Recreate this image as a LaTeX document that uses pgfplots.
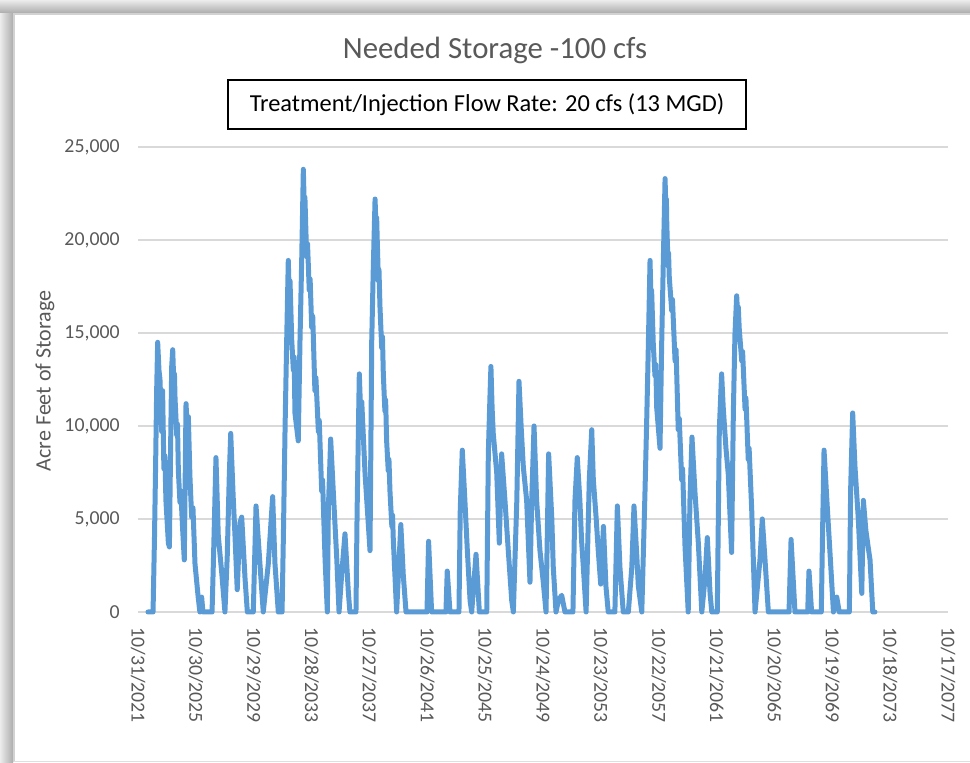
\documentclass[border=0pt]{standalone}
\usepackage{pgfplots}
\pgfplotsset{compat=1.18}
\usepackage{fontspec}
\setmainfont{Carlito}
\definecolor{serblue}{HTML}{5B9BD5}
\definecolor{txtgray}{HTML}{595959}
\definecolor{gridgray}{HTML}{D9D9D9}
\begin{document}
\begin{tikzpicture}
% background and shadow frame (1px = 0.5pt)
\useasboundingbox (0,0) rectangle (485pt,381.5pt);
\fill[white] (0,0) rectangle (485pt,381.5pt);
\shade[left color=gray!15, right color=gray!65] (0,0) rectangle (6.5pt,381.5pt);
\shade[top color=gray!15, bottom color=gray!65] (0,375pt) rectangle (485pt,381.5pt);
\fill[white] (7pt,0) rectangle (485pt,374.5pt);
\draw[gray!35, line width=0.6pt] (7pt,0.6pt) -- (7pt,374.5pt) -- (485pt,374.5pt);
\draw[gray!25, line width=0.6pt] (7pt,0.6pt) -- (485pt,0.6pt);
% title and annotation
\node[text=txtgray, font=\fontsize{15.4}{18}\selectfont] at (247.5pt,356.5pt) {Needed Storage -100 cfs};
\node[draw=black, line width=1pt, minimum width=259pt, minimum height=24.5pt, inner sep=0pt,
      font=\fontsize{12.2}{14}\selectfont] at (243.5pt,329.25pt) {Treatment/Injection Flow Rate: 20 cfs (13 MGD)};
\node[text=txtgray, rotate=90, font=\fontsize{11}{13}\selectfont] at (22.5pt,191pt) {Acre Feet of Storage};
\begin{axis}[
  at={(69pt,75.5pt)}, anchor=south west,
  scale only axis, width=405pt, height=232.5pt,
  xmin=0, xmax=56, ymin=0, ymax=25000,
  clip=false,
  axis line style={draw=none},
  major tick length=0pt,
  ymajorgrids, grid style={color=gridgray, line width=0.9pt},
  ytick={0,5000,10000,15000,20000,25000},
  scaled y ticks=false,
  /pgf/number format/assume math mode=true,
  /pgf/number format/1000 sep={,},
  yticklabel style={text=txtgray, font=\fontsize{9.9}{12}\selectfont, inner sep=0pt, anchor=east},
  yticklabel shift=9pt,
  xtick={0,4,...,56},
  xticklabels={10/31/2021,10/30/2025,10/29/2029,10/28/2033,10/27/2037,10/26/2041,10/25/2045,10/24/2049,10/23/2053,10/22/2057,10/21/2061,10/20/2065,10/19/2069,10/18/2073,10/17/2077},
  xticklabel style={text=txtgray, font=\fontsize{9.9}{12}\selectfont, inner sep=0pt, rotate=-90, anchor=west},
  xticklabel shift=7.5pt,
]
\addplot[serblue, line width=2.5pt, line join=round, line cap=round] table {
x y
0.69 0
1.04 0
1.14 4000
1.22 8000
1.29 11900
1.36 14500
1.45 13000
1.52 12500
1.64 9700
1.70 11900
1.79 7700
1.86 8400
1.93 6000
2.10 3700
2.17 3500
2.27 9800
2.33 13200
2.40 14100
2.48 12200
2.52 12800
2.56 11500
2.68 9500
2.73 10100
2.79 7600
2.90 5900
2.96 6500
3.09 4400
3.20 2800
3.32 11200
3.40 10000
3.48 10500
3.59 7300
3.71 5100
3.80 5600
3.94 2600
4.16 800
4.28 0
4.40 800
4.49 0
5.12 0
5.21 2600
5.39 8300
5.47 6200
5.55 4100
5.79 2100
6.01 0
6.17 3000
6.31 7300
6.41 9600
6.50 7800
6.58 6200
6.70 4200
6.86 1200
7.05 4800
7.17 5100
7.40 1800
7.56 0
7.97 0
8.16 5700
8.43 2600
8.66 0
9.01 2600
9.31 6200
9.47 2600
9.70 0
9.96 0
10.05 4000
10.17 10000
10.28 14600
10.39 18900
10.45 17200
10.51 17800
10.63 14600
10.74 13000
10.80 13700
10.85 10700
11.08 9200
11.20 14600
11.32 19000
11.43 23800
11.50 21600
11.54 22300
11.66 19100
11.72 19800
11.84 17300
11.90 17900
12.01 15300
12.08 15900
12.23 11900
12.30 12600
12.47 9700
12.53 10300
12.70 6500
12.76 7100
12.93 2900
13.09 0
13.16 5500
13.32 9300
13.50 6500
13.74 2900
13.90 0
14.08 2000
14.31 4200
14.54 1100
14.65 0
15.07 0
15.15 5500
15.30 12800
15.40 10600
15.47 11300
15.70 7400
15.85 5600
16.04 3300
16.16 14600
16.27 18600
16.39 22200
16.46 20500
16.50 21200
16.54 20000
16.62 17800
16.66 18400
16.73 16400
16.85 14200
16.90 14800
16.96 12800
17.07 10800
17.12 11400
17.19 9200
17.30 7600
17.35 8200
17.42 6500
17.55 4600
17.60 5200
17.65 3900
17.88 0
18.17 4700
18.34 2000
18.53 0
19.98 0
20.09 3800
20.30 0
21.29 0
21.38 2200
21.57 0
22.19 0
22.28 5500
22.42 8700
22.60 6000
22.77 3300
22.96 600
23.07 0
23.37 3100
23.60 0
24.11 0
24.22 8500
24.33 11500
24.40 13200
24.48 11000
24.56 9600
24.80 7500
24.98 3700
25.14 8500
25.37 6000
25.60 3300
25.84 600
25.95 0
26.19 6000
26.34 12400
26.50 9800
26.64 7800
26.87 6000
27.10 1600
27.22 6000
27.38 10000
27.56 6000
27.79 3300
28.02 1600
28.21 0
28.39 8500
28.61 5000
28.71 2400
28.90 0
29.06 600
29.29 900
29.52 0
30.07 0
30.21 6000
30.37 8300
30.55 6000
30.67 3800
30.79 2400
30.98 0
31.20 7100
31.37 9800
31.48 7100
31.67 5100
31.82 3300
31.99 1500
32.18 4600
32.35 1400
32.51 0
32.97 0
33.14 5700
33.32 2400
33.55 0
33.90 0
34.14 2400
34.29 5700
34.48 3100
34.59 1400
34.83 0
35.05 6400
35.17 10300
35.28 14200
35.40 18900
35.46 17000
35.51 17300
35.62 14500
35.74 12700
35.80 13300
35.86 11000
36.09 8800
36.20 14200
36.32 18900
36.44 23300
36.50 21500
36.53 22200
36.56 20800
36.65 18600
36.68 19300
36.73 18000
36.90 16200
36.95 16800
37.13 13500
37.20 14100
37.35 9800
37.42 10400
37.59 7100
37.65 7700
37.82 3500
38.04 0
38.16 6000
38.30 9400
38.51 6400
38.74 3700
38.98 0
39.20 1800
39.36 4000
39.55 1000
39.67 0
40.05 0
40.19 9800
40.35 12800
40.46 11000
40.65 8800
40.81 7400
41.04 3200
41.16 10700
41.27 14900
41.39 17000
41.47 15800
41.50 16400
41.57 15200
41.74 13500
41.80 14000
41.97 10900
42.03 11500
42.19 8200
42.25 8800
42.43 5500
42.66 0
43.00 2800
43.16 5000
43.35 2800
43.58 0
45.01 0
45.15 3900
45.42 0
46.30 0
46.39 2200
46.57 0
47.24 0
47.34 4800
47.43 8700
47.62 6100
47.84 3200
48.08 0
48.31 800
48.48 0
49.18 0
49.27 6600
49.41 10700
49.57 7800
49.80 5000
50.04 1000
50.15 6000
50.32 4400
50.48 3500
50.61 2800
50.80 0
50.95 0
};
\end{axis}
\end{tikzpicture}
\end{document}
